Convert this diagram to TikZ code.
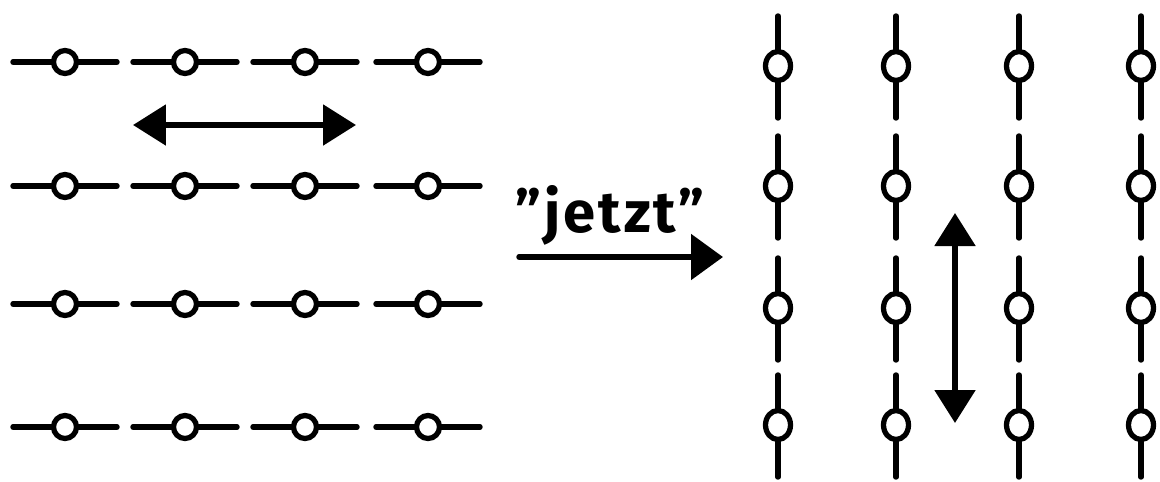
\documentclass[tikz,border=0pt]{standalone}
\usepackage{fontspec}
\setmainfont{Fira Sans}
\usetikzlibrary{arrows.meta,shapes.geometric}
\begin{document}
\begin{tikzpicture}[x=0.02cm,y=-0.02cm,
  ln/.style={line width=3.1pt,line cap=round},
  lball/.style={circle,draw,line width=3pt,fill=white,inner sep=0pt,minimum size=0.46cm},
  rball/.style={ellipse,draw,line width=3pt,fill=white,inner sep=0pt,minimum width=0.5cm,minimum height=0.58cm},
  dbl/.style={line width=3.1pt,{Triangle[length=0.66cm,width=0.8cm]}-{Triangle[length=0.66cm,width=0.8cm]}},
  lbl/.style={font=\bfseries\fontsize{33}{37}\selectfont\addfontfeature{LetterSpace=5},inner sep=0pt}]
\useasboundingbox (0,0) rectangle (1160,481);
% left grid (horizontal chains)
\foreach \r/\y in {1/62,2/186,3/304,4/427}{
  \foreach \c/\x in {1/65,2/185,3/305,4/428}{
    \coordinate (La-\r-\c) at (\x-52,\y);
    \coordinate (Lb-\r-\c) at (\x+52,\y);
    \draw[ln] (La-\r-\c) -- (Lb-\r-\c);
    \node[lball] (L-\r-\c) at (\x,\y) {};
  }
}
% right grid (vertical chains)
\foreach \c/\x in {1/778,2/896,3/1019,4/1141}{
  \foreach \r/\y in {1/66,2/186,3/308,4/425}{
    \coordinate (Ra-\r-\c) at (\x,\y-50);
    \coordinate (Rb-\r-\c) at (\x,\y+52);
    \draw[ln] (Ra-\r-\c) -- (Rb-\r-\c);
    \node[rball] (R-\r-\c) at (\x,\y) {};
  }
}
% left double arrow
\coordinate (la1) at (133,125);
\coordinate (la2) at (356,125);
\draw[dbl] (la1) -- (la2);
% right double arrow
\coordinate (ra1) at (955,213);
\coordinate (ra2) at (955,423);
\draw[dbl] (ra1) -- (ra2);
% main arrow
\coordinate (ma1) at (519,257);
\coordinate (ma2) at (723,257);
\draw[line width=3.1pt,line cap=round,-{Triangle[length=0.64cm,width=0.9cm]}] (ma1) -- (ma2);
\node[lbl,anchor=base] (jetzt) at (610,232) {”jetzt”};
\end{tikzpicture}
\end{document}
